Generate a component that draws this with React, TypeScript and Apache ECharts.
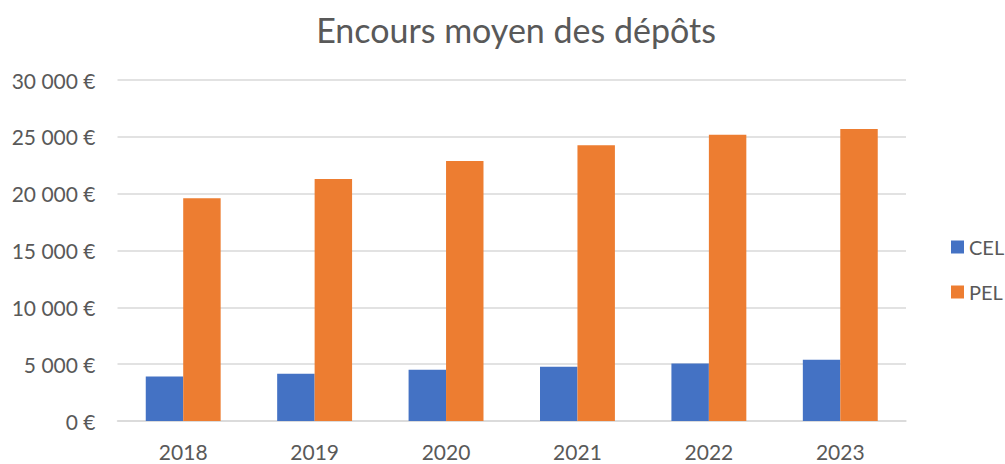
import React, { useEffect, useRef } from "react";
import * as echarts from "echarts";

const years = ["2018", "2019", "2020", "2021", "2022", "2023"];
const celValues = [3920, 4160, 4510, 4770, 5060, 5390];
const pelValues = [19600, 21290, 22870, 24250, 25190, 25690];
const seriesNames = ["CEL", "PEL"];
const titleText = "Encours moyen des dépôts";

const fmt = (v: number) => {
  const s = String(Math.round(v));
  return s.replace(/\B(?=(\d{3})+(?!\d))/g, " ") + " €";
};

export default function App() {
  const ref = useRef<HTMLDivElement>(null);
  useEffect(() => {
    if (!ref.current) return;
    const chart = echarts.init(ref.current, undefined, { renderer: "svg" });
    const font = "Lato, 'Open Sans', sans-serif";
    chart.setOption({
      animation: false,
      backgroundColor: "#ffffff",
      title: {
        text: titleText,
        left: 511,
        textAlign: "center",
        top: 7,
        textStyle: { fontFamily: font, fontSize: 34, fontWeight: "normal", color: "#595959" },
      },
      legend: {
        orient: "vertical",
        left: 946,
        top: 232,
        itemWidth: 13,
        itemHeight: 13,
        itemGap: 25,
        icon: "rect",
        data: seriesNames,
        textStyle: { fontFamily: font, fontSize: 20, color: "#595959" },
      },
      grid: { left: 117.5, right: 99, top: 80, bottom: 43, containLabel: false },
      xAxis: {
        type: "category",
        data: years,
        axisLine: { lineStyle: { color: "#d9d9d9", width: 1.5 } },
        axisTick: { show: false },
        axisLabel: { fontFamily: font, fontSize: 21, color: "#595959", margin: 20 },
      },
      yAxis: {
        type: "value",
        min: 0,
        max: 30000,
        interval: 5000,
        axisLine: { show: false },
        axisTick: { show: false },
        splitLine: { lineStyle: { color: "#d9d9d9", width: 1.5 } },
        axisLabel: { fontFamily: font, fontSize: 21, color: "#595959", margin: 22, formatter: fmt },
      },
      series: [
        {
          name: seriesNames[0],
          type: "bar",
          data: celValues,
          itemStyle: { color: "#4472c4" },
          barGap: "0%",
          barCategoryGap: "43%",
        },
        {
          name: seriesNames[1],
          type: "bar",
          data: pelValues,
          itemStyle: { color: "#ed7d31" },
          barGap: "0%",
          barCategoryGap: "43%",
        },
      ],
    });
    return () => chart.dispose();
  }, []);
  return <div ref={ref} style={{ width: 1005, height: 464, position: "absolute", left: 0, top: 0 }} />;
}
